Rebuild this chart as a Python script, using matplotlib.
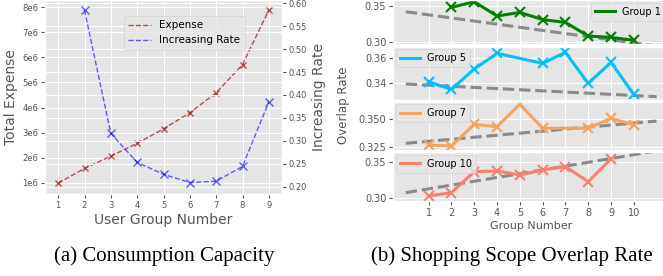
import matplotlib
matplotlib.use("Agg")
import matplotlib.pyplot as plt
from matplotlib.ticker import MultipleLocator, FormatStrFormatter

# data
user_groups = [1, 2, 3, 4, 5, 6, 7, 8, 9]
expense = [0.98e6, 1.57e6, 2.06e6, 2.57e6, 3.15e6, 3.79e6, 4.59e6, 5.71e6, 7.89e6]
rate_groups = [2, 3, 4, 5, 6, 7, 8, 9]
increasing_rate = [0.585, 0.316, 0.253, 0.227, 0.209, 0.212, 0.244, 0.385]

g1_x = [2, 3, 4, 5, 6, 7, 8, 9, 10]
g1_y = [0.348, 0.356, 0.336, 0.341, 0.331, 0.327, 0.308, 0.306, 0.302]
g5_x = [1, 2, 3, 4, 6, 7, 8, 9, 10]
g5_y = [0.3408, 0.3347, 0.351, 0.3635, 0.3555, 0.3643, 0.3395, 0.3563, 0.3307]
g7_x = [1, 2, 3, 4, 5, 6, 8, 9, 10]
g7_y = [0.3266, 0.3256, 0.3454, 0.3432, 0.3637, 0.3418, 0.3418, 0.3509, 0.3448]
g10_x = [1, 2, 3, 4, 5, 6, 7, 8, 9]
g10_y = [0.3024, 0.3071, 0.3367, 0.3377, 0.332, 0.3391, 0.3438, 0.3226, 0.3547]

# dashed trend lines (value at x=0 and x=11)
trend_x = [0, 11]
g1_trend = [0.342, 0.294]
g5_trend = [0.339, 0.3289]
g7_trend = [0.3281, 0.3484]
g10_trend = [0.3071, 0.366]

group_ticks = list(range(1, 11))

plt.style.use("ggplot")
plt.rcParams["font.family"] = ["DejaVu Sans"]

W, H = 663, 276
fig = plt.figure(figsize=(W / 100, H / 100), dpi=100)
fig.patch.set_facecolor("white")


def px(l, t, r, b):
    # pixel box -> figure fraction rect
    return [l / W, 1 - b / H, (r - l) / W, (b - t) / H]


# ---- (a) consumption capacity ----
ax1 = fig.add_axes(px(45, 0, 282, 194))
ax1.plot(user_groups, expense, "--", color="brown", alpha=0.8, lw=1, label="Expense")
ax1.plot(user_groups, expense, "x", color="brown", alpha=0.8, ms=5, mew=1)
ax1.set_xlim(0.5, 9.5)
ax1.set_ylim(0.549e6, 8.29e6)
ax1.set_xticks(user_groups)
ax1.set_yticks([1e6, 2e6, 3e6, 4e6, 5e6, 6e6, 7e6, 8e6])
ax1.set_yticklabels(["1e6", "2e6", "3e6", "4e6", "5e6", "6e6", "7e6", "8e6"])
ax1.tick_params(labelsize=6, pad=2, length=3)
ax1.set_xlabel("User Group Number", fontsize=10, labelpad=2)
ax1.set_ylabel("Total Expense", fontsize=10, labelpad=3)

ax2 = ax1.twinx()
ax2.plot(rate_groups, increasing_rate, "--", color="blue", alpha=0.6, lw=1,
         label="Increasing Rate")
ax2.plot(rate_groups, increasing_rate, "x", color="blue", alpha=0.6, ms=6, mew=1)
ax2.set_ylim(0.184, 0.607)
ax2.yaxis.set_major_locator(MultipleLocator(0.05))
ax2.yaxis.set_major_formatter(FormatStrFormatter("%.2f"))
ax2.tick_params(labelsize=6, pad=2, length=3)
ax2.set_ylabel("Increasing Rate", fontsize=10, labelpad=3)

h1, l1 = ax1.get_legend_handles_labels()
h2, l2 = ax2.get_legend_handles_labels()
ax2.legend(h1 + h2, l1 + l2, loc="upper left", fontsize=7.5,
           bbox_to_anchor=(124 / W, 1 - 16 / H), bbox_transform=fig.transFigure,
           borderaxespad=0, handlelength=2.2)

# ---- (b) shopping scope overlap rate ----
panels = [
    (g1_x, g1_y, g1_trend, "green", "Group 1", (0, 44.5), (0.2961, 0.3584), 0.05, "%.2f", "upper right"),
    (g5_x, g5_y, g5_trend, "deepskyblue", "Group 5", (46.5, 100), (0.3262, 0.369), 0.02, "%.2f", "upper left"),
    (g7_x, g7_y, g7_trend, "sandybrown", "Group 7", (101.5, 150), (0.322, 0.3662), 0.025, "%.3f", "upper left"),
    (g10_x, g10_y, g10_trend, "salmon", "Group 10", (152, 201), (0.2953, 0.3645), 0.05, "%.2f", "upper left"),
]
for i, (gx, gy, tr, col, lab, (top, bot), ylim, step, fmt, loc) in enumerate(panels):
    ax = fig.add_axes(px(393.3, top, 668, bot))
    ax.plot(trend_x, tr, "--", color="gray", lw=2.2, alpha=0.9)
    ax.plot(gx, gy, "-", color=col, lw=2.2, label=lab)
    ax.plot(gx, gy, "x", color=col, ms=7, mew=1.5)
    ax.set_xlim(-0.55, 11.5)
    ax.set_ylim(*ylim)
    ax.set_xticks(group_ticks)
    ax.yaxis.set_major_locator(MultipleLocator(step))
    ax.yaxis.set_major_formatter(FormatStrFormatter(fmt))
    ax.tick_params(labelsize=7, pad=2, length=3)
    if i < 3:
        ax.tick_params(axis="x", labelbottom=False, length=0)
    else:
        ax.set_xlabel("Group Number", fontsize=8, labelpad=2)
    ax.legend(loc=loc, fontsize=7, borderaxespad=0.3, handlelength=2.0)

fig.text(343 / W, 1 - 105 / H, "Overlap Rate", rotation=90, fontsize=8.5,
         color="#555555", ha="center", va="center")

# captions
cap_font = dict(family="Liberation Serif", fontsize=15, ha="center", va="center")
fig.text(164 / W, 1 - 256 / H, "(a) Consumption Capacity", **cap_font)
fig.text(512 / W, 1 - 256 / H, "(b) Shopping Scope Overlap Rate", **cap_font)

fig.savefig("out.png", dpi=100, facecolor="white")
